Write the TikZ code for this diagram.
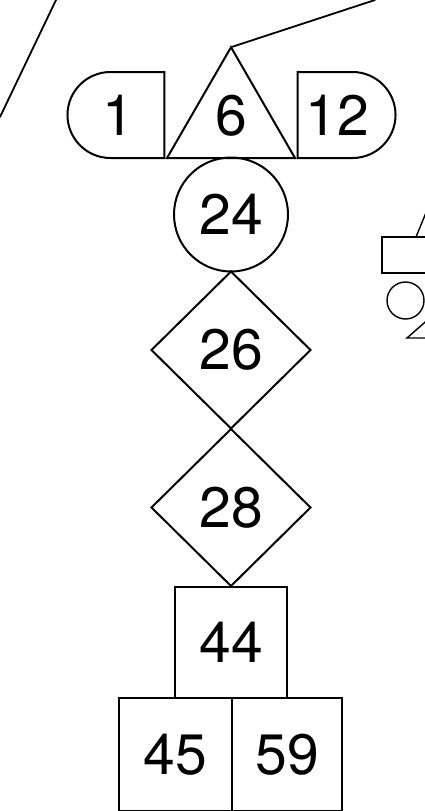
\documentclass[tikz,border=0pt]{standalone}
\usepackage{fontspec}
\setmainfont{TeX Gyre Heros}
\usepackage{tikz}
\usetikzlibrary{shapes.geometric,shapes.misc}
\tikzset{
  base/.style={draw=black, line width=2pt, line join=miter, inner sep=0pt, outer sep=0pt, font=\fontsize{57}{60}\selectfont},
  capl/.style={base, rounded rectangle, rounded rectangle right arc=none, minimum width=97pt, minimum height=86pt},
  capr/.style={base, rounded rectangle, rounded rectangle left arc=none, minimum width=98pt, minimum height=86pt},
  tri/.style={base, regular polygon, regular polygon sides=3, minimum size=147.8pt},
  rnd/.style={base, circle, minimum size=114pt},
  dia/.style={base, diamond, minimum width=159pt, minimum height=157pt},
  sq/.style={base, rectangle, minimum width=112pt, minimum height=111pt},
  wire/.style={draw=black, line width=1.8pt, line cap=round},
  thin/.style={draw=black, line width=1.4pt}
}
\begin{document}
\begin{tikzpicture}[x=1pt,y=-1pt]
  \useasboundingbox (0,0) rectangle (425,811);
  \clip (0,0) rectangle (425,811);
  % chain of numbered shapes
  \node[capl] (n1) at (118.5,115) {1};
  \node[tri] (n6) at (231,121.1) {\raisebox{4pt}[\height][4pt]{6}};
  \node[capr] (n12) at (344,115) {12\kern14pt};
  \node[rnd] (n24) at (231,214.5) {24};
  \node[dia] (n26) at (231,350) {26};
  \node[dia] (n28) at (231,507.5) {28};
  \node[sq] (n44) at (231,642.5) {44};
  \node[sq, minimum width=113pt, minimum height=113pt] (n45) at (175.5,754.5) {45};
  \node[sq, minimum width=110pt, minimum height=113pt] (n59) at (287,754.5) {59};
  % loose lines
  \coordinate (tr) at (375,0);
  \coordinate (bl) at (0,117);
  \coordinate (tl) at (56,0);
  \draw[wire] (n6.corner 1) -- (tr);
  \draw[wire] (bl) -- (tl);
  % shapes cut by the right edge
  \draw[thin] (382,237) rectangle (440,273);
  \draw[thin] (416,237) -- (432,198);
  \draw[thin] (405.5,300.5) circle (18.5);
  \draw[thin] (440,338) -- (407,338) -- (432,316);
\end{tikzpicture}
\end{document}
